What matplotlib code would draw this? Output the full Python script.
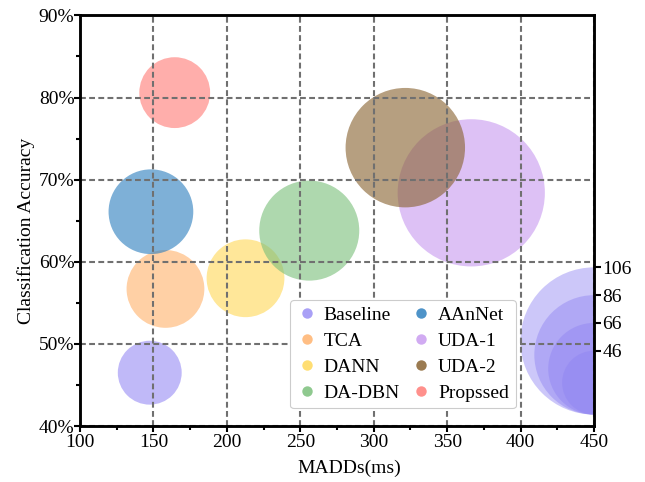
import matplotlib
matplotlib.use("Agg")
import matplotlib.pyplot as plt
from matplotlib.lines import Line2D
from matplotlib.ticker import MultipleLocator

# method results: MADDs (ms), accuracy (%), bubble size ~ model size
methods = ["Baseline", "TCA", "DANN", "DA-DBN", "AAnNet", "UDA-1", "UDA-2", "Propssed"]
madds = [147.5, 158.2, 212.7, 256.1, 148.3, 366.4, 321.5, 164.5]
accuracy = [46.5, 56.7, 58.0, 63.8, 66.1, 68.4, 73.9, 80.6]
model_size = [46, 56, 56, 72, 61, 106, 86, 51]
colors = ["#9a8ff5", "#ffb36e", "#ffd95a", "#7cc07c", "#2f80bf", "#c99cf0", "#8a6432", "#ff7d78"]

size_ticks = [106, 86, 66, 46]
size_color = "#8f84f2"
size_x = 450
size_bottom = 41.4

plt.rcParams["font.family"] = ["Liberation Serif", "DejaVu Serif"]
plt.rcParams["font.size"] = 14

DPI = 100
fig = plt.figure(figsize=(6.45, 4.82), dpi=DPI)
ax = fig.add_axes([0.124, 0.116, 0.797, 0.852])

ax.set_xlim(100, 450)
ax.set_ylim(40, 90)

# diameter in points equals the size value
for x, y, s, c in zip(madds, accuracy, model_size, colors):
    ax.scatter(x, y, s=s ** 2, color=c, alpha=0.62, edgecolors="none", zorder=1)

# nested size key, bottom-aligned at the right edge
ax_h_px = ax.get_position().height * fig.get_figheight() * DPI
px_per_unit = ax_h_px / 50.0
tops = []
for v in size_ticks:
    r = v / 2 * DPI / 72 / px_per_unit
    ax.scatter(size_x, size_bottom + r, s=v ** 2, color=size_color, alpha=0.45,
               edgecolors="none", zorder=1)
    tops.append(size_bottom + 2 * r)

ax.grid(True, which="major", color="#707070", linestyle=(0, (2.8, 1.6)), linewidth=1.5)

ax.set_xticks(range(100, 451, 50))
ax.xaxis.set_minor_locator(MultipleLocator(25))
ax.set_yticks(range(40, 91, 10))
ax.set_yticklabels([f"{v}%" for v in range(40, 91, 10)])
ax.yaxis.set_minor_locator(MultipleLocator(5))
ax.tick_params(which="major", direction="out", length=4, width=1.5, pad=2)
ax.tick_params(axis="y", which="major", pad=0)
ax.tick_params(which="minor", direction="out", length=3, width=1.5)

ax.set_xlabel("MADDs(ms)")
ax.set_ylabel("Classification Accuracy")
ax.xaxis.set_label_coords(0.523, -0.082)
ax.yaxis.set_label_coords(-0.088, 0.475)

for sp in ax.spines.values():
    sp.set_linewidth(1.8)

ax2 = ax.twinx()
ax2.set_ylim(40, 90)
ax2.set_yticks(tops)
ax2.set_yticklabels([str(v) for v in size_ticks])
ax2.tick_params(direction="out", length=5, width=1.5, pad=1)
for sp in ax2.spines.values():
    sp.set_linewidth(1.8)

handles = [Line2D([], [], marker="o", linestyle="none", markersize=7.5,
                  markerfacecolor=c, markeredgecolor="none", alpha=0.85)
           for c in colors]
leg = ax2.legend(handles, methods,
                 ncol=2, loc="lower left", bbox_to_anchor=(0.408, 0.043),
                 borderaxespad=0, frameon=True, fancybox=True, framealpha=1,
                 edgecolor="#cccccc", handletextpad=0.3, handlelength=1.1,
                 columnspacing=0.55, labelspacing=0.42, borderpad=0.35)
leg.get_frame().set_linewidth(0.8)

fig.savefig("out.png", dpi=DPI)
